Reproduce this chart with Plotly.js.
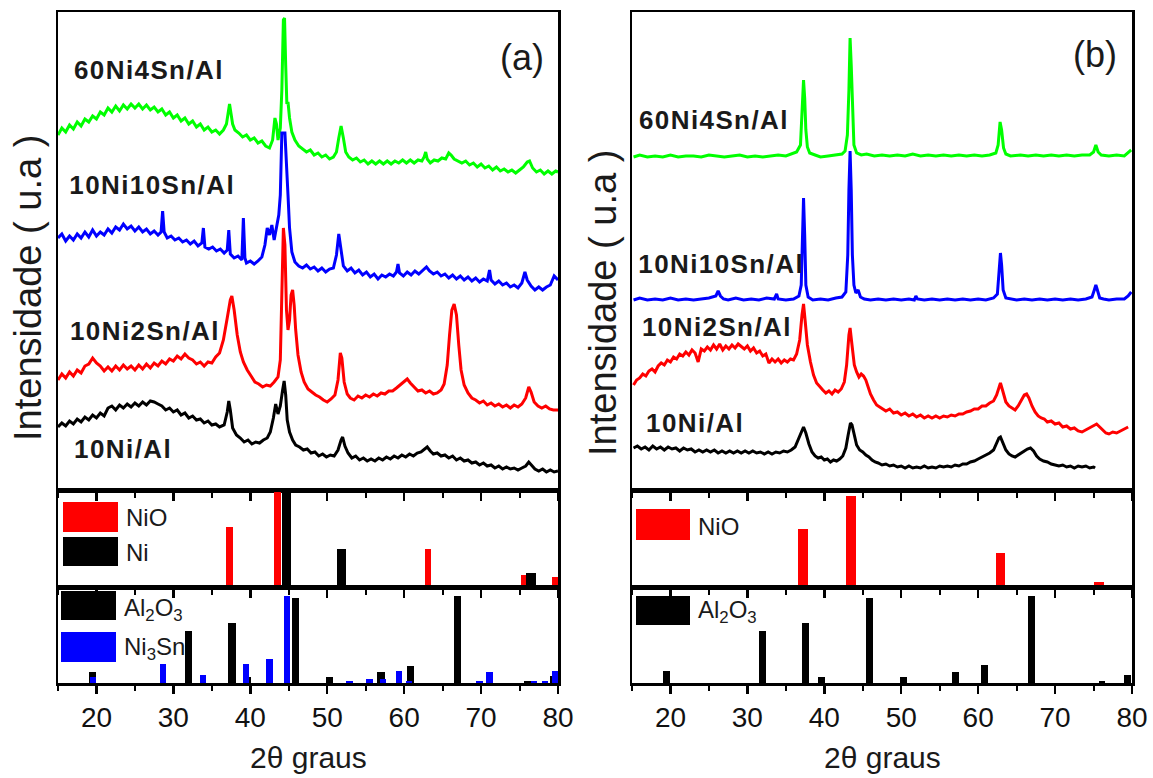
<!DOCTYPE html>
<html>
<head>
<meta charset="utf-8">
<script src="https://cdn.plot.ly/plotly-3.0.1.min.js"></script>
<style>
  html, body { margin: 0; padding: 0; background: #fff; }
  #chart { width: 1153px; height: 778px; }
</style>
</head>
<body>
<div id="chart"></div>
<script>
// XRD patterns, [2θ (degrees), intensity (a.u., stacked offset)]
// Panel (a)
const a60Ni4Sn = [[15.0,355],[15.5,362],[16.0,358],[16.5,365],[17.0,361],[17.5,368],[18.0,364],[18.5,371],[19.0,368],[19.5,374],[20.0,371],[20.5,378],[21.0,375],[21.5,382],[22.0,378],[22.5,384],[23.0,379],[23.5,385],[24.0,381],[24.5,386],[25.0,382],[25.5,386],[26.0,381],[26.5,385],[27.0,380],[27.5,383],[28.0,378],[28.5,381],[29.0,375],[29.5,378],[30.0,372],[30.5,375],[31.0,369],[31.5,372],[32.0,366],[32.5,369],[33.0,363],[33.5,366],[34.0,360],[34.5,363],[35.0,358],[35.5,360],[36.0,356],[36.5,360],[36.9,366],[37.1,378],[37.3,386],[37.5,376],[37.7,366],[38.0,360],[38.5,357],[39.0,353],[39.5,355],[40.0,350],[40.5,352],[41.0,347],[41.5,349],[42.0,344],[42.5,342],[42.9,350],[43.2,372],[43.4,366],[43.6,350],[43.9,362],[44.1,400],[44.3,470],[44.45,472],[44.6,425],[44.75,386],[44.9,388],[45.1,372],[45.4,358],[45.8,350],[46.3,344],[46.8,341],[47.3,338],[47.8,340],[48.3,335],[48.8,337],[49.3,333],[49.8,335],[50.3,331],[50.8,333],[51.2,338],[51.5,352],[51.8,364],[52.1,352],[52.4,338],[52.8,333],[53.3,330],[53.8,332],[54.3,328],[54.8,330],[55.3,326],[55.8,329],[56.3,326],[56.8,329],[57.3,326],[57.8,329],[58.3,326],[58.8,329],[59.3,327],[59.8,330],[60.3,327],[60.8,330],[61.3,327],[61.8,330],[62.3,329],[62.6,333],[62.8,338],[63.0,331],[63.4,327],[63.9,330],[64.4,329],[64.9,332],[65.4,331],[65.8,337],[66.1,335],[66.5,331],[67.0,329],[67.5,327],[68.0,329],[68.5,325],[69.0,327],[69.5,323],[70.0,326],[70.5,322],[71.0,324],[71.5,320],[72.0,323],[72.5,319],[73.0,321],[73.5,318],[74.0,320],[74.5,317],[75.0,320],[75.5,323],[76.0,328],[76.3,329],[76.7,322],[77.2,318],[77.7,320],[78.2,316],[78.7,319],[79.2,316],[79.7,319],[80.0,318]];

const a10Ni10Sn = [[15.0,252],[15.5,256],[16.0,249],[16.5,254],[17.0,250],[17.5,256],[18.0,252],[18.5,258],[19.0,253],[19.5,260],[20.0,254],[20.5,258],[21.0,255],[21.5,261],[22.0,257],[22.5,263],[23.0,260],[23.5,266],[24.0,261],[24.5,264],[25.0,259],[25.5,263],[26.0,258],[26.5,261],[27.0,256],[27.5,259],[28.0,255],[28.4,258],[28.6,279],[28.8,258],[29.2,252],[29.7,254],[30.2,250],[30.7,252],[31.2,248],[31.7,250],[32.2,246],[32.7,249],[33.2,244],[33.7,247],[33.9,262],[34.1,243],[34.6,241],[35.1,243],[35.6,239],[36.1,241],[36.6,237],[37.0,240],[37.2,260],[37.4,236],[37.9,232],[38.4,234],[38.9,230],[39.1,272],[39.3,232],[39.5,227],[40.0,229],[40.5,226],[41.0,229],[41.5,233],[41.9,245],[42.2,262],[42.5,255],[42.8,265],[43.1,250],[43.4,262],[43.7,275],[43.9,295],[44.1,357],[44.5,357],[44.7,330],[44.9,295],[45.1,262],[45.4,238],[45.8,228],[46.3,224],[46.8,222],[47.3,225],[47.8,221],[48.3,223],[48.8,219],[49.3,222],[49.8,218],[50.3,221],[50.8,222],[51.2,235],[51.5,256],[51.8,238],[52.1,224],[52.6,219],[53.1,222],[53.6,217],[54.1,220],[54.6,215],[55.1,218],[55.6,213],[56.1,216],[56.6,211],[57.1,215],[57.6,213],[58.1,216],[58.6,214],[59.0,218],[59.2,226],[59.4,217],[59.9,214],[60.4,218],[60.9,215],[61.4,219],[61.9,216],[62.4,220],[62.9,223],[63.3,219],[63.8,216],[64.3,218],[64.8,214],[65.3,216],[65.8,212],[66.3,215],[66.8,211],[67.3,214],[67.8,210],[68.3,213],[68.8,209],[69.3,212],[69.8,208],[70.3,211],[70.8,209],[71.1,220],[71.3,210],[71.8,206],[72.3,209],[72.8,205],[73.3,207],[73.8,203],[74.3,205],[74.8,202],[75.3,207],[75.7,218],[76.0,210],[76.5,204],[77.0,200],[77.5,203],[78.0,200],[78.5,203],[79.0,205],[79.5,214],[80.0,210]];

const a10Ni2Sn = [[15.0,110],[15.5,116],[16.0,112],[16.5,118],[17.0,114],[17.5,120],[18.0,117],[18.5,124],[19.0,126],[19.5,132],[20.0,127],[20.5,124],[21.0,119],[21.5,123],[22.0,119],[22.5,124],[23.0,120],[23.5,125],[24.0,121],[24.5,124],[25.0,120],[25.5,125],[26.0,121],[26.5,126],[27.0,122],[27.5,127],[28.0,124],[28.5,129],[29.0,126],[29.5,131],[30.0,129],[30.5,134],[31.0,131],[31.5,136],[32.0,132],[32.5,130],[33.0,126],[33.5,128],[34.0,124],[34.5,128],[35.0,127],[35.5,133],[36.0,137],[36.5,150],[37.0,172],[37.4,190],[37.6,194],[37.9,180],[38.3,155],[38.7,138],[39.1,128],[39.6,120],[40.1,114],[40.6,108],[41.1,106],[41.6,103],[42.1,105],[42.6,104],[43.1,108],[43.6,113],[43.9,130],[44.1,200],[44.3,262],[44.5,245],[44.7,180],[44.9,160],[45.1,170],[45.3,195],[45.5,200],[45.7,185],[45.9,160],[46.2,135],[46.6,118],[47.0,108],[47.5,101],[48.0,98],[48.5,95],[49.0,93],[49.5,90],[50.0,88],[50.5,91],[51.0,95],[51.4,110],[51.7,137],[51.9,132],[52.2,108],[52.6,96],[53.0,92],[53.5,90],[54.0,94],[54.5,92],[55.0,95],[55.5,93],[56.0,96],[56.5,94],[57.0,97],[57.5,96],[58.0,99],[58.5,99],[59.0,102],[59.5,105],[60.0,108],[60.4,111],[60.8,107],[61.3,103],[61.8,99],[62.3,100],[62.8,97],[63.3,99],[63.8,96],[64.3,97],[64.8,100],[65.2,106],[65.6,125],[65.9,155],[66.2,180],[66.5,186],[66.8,175],[67.1,145],[67.4,120],[67.8,105],[68.3,97],[68.8,92],[69.3,90],[69.8,87],[70.3,89],[70.8,85],[71.3,87],[71.8,84],[72.3,86],[72.8,83],[73.3,85],[73.8,82],[74.3,85],[74.8,83],[75.3,86],[75.8,92],[76.2,103],[76.5,98],[76.9,88],[77.4,84],[77.9,82],[78.4,84],[78.9,81],[79.4,80],[80.0,80]];

const a10Ni = [[15.0,63],[15.5,67],[16.0,64],[16.5,69],[17.0,66],[17.5,71],[18.0,68],[18.5,73],[19.0,70],[19.5,75],[20.0,72],[20.5,77],[21.0,74],[21.5,82],[22.0,84],[22.5,80],[23.0,85],[23.5,82],[24.0,86],[24.5,83],[25.0,87],[25.5,84],[26.0,88],[26.5,85],[27.0,89],[27.5,88],[28.0,86],[28.5,84],[29.0,80],[29.5,82],[30.0,78],[30.5,80],[31.0,75],[31.5,77],[32.0,72],[32.5,74],[33.0,70],[33.5,71],[34.0,67],[34.5,69],[35.0,65],[35.5,66],[36.0,63],[36.6,65],[37.0,78],[37.2,89],[37.4,80],[37.7,62],[38.2,55],[38.7,52],[39.2,48],[39.7,50],[40.2,46],[40.7,48],[41.2,47],[41.7,50],[42.2,52],[42.6,58],[43.0,72],[43.3,86],[43.6,76],[43.9,84],[44.2,100],[44.4,109],[44.6,95],[44.8,70],[45.1,58],[45.5,50],[45.9,45],[46.4,43],[46.9,40],[47.4,41],[47.9,37],[48.4,38],[48.9,34],[49.4,36],[49.9,33],[50.4,35],[50.9,34],[51.4,40],[51.8,50],[52.0,53],[52.3,44],[52.7,37],[53.2,32],[53.7,34],[54.2,30],[54.7,32],[55.2,29],[55.7,31],[56.2,29],[56.7,32],[57.2,30],[57.7,33],[58.2,31],[58.7,34],[59.2,32],[59.7,35],[60.2,33],[60.7,36],[61.2,34],[61.7,37],[62.2,38],[62.7,41],[63.0,43],[63.4,39],[63.8,36],[64.3,37],[64.8,34],[65.3,35],[65.8,32],[66.3,34],[66.8,30],[67.3,32],[67.8,29],[68.3,30],[68.8,27],[69.3,28],[69.8,25],[70.3,27],[70.8,24],[71.3,25],[71.8,22],[72.3,24],[72.8,21],[73.3,23],[73.8,21],[74.3,22],[74.8,20],[75.3,22],[75.8,24],[76.2,28],[76.5,25],[77.0,21],[77.5,19],[78.0,21],[78.5,18],[79.0,20],[79.5,18],[80.0,19]];

// Panel (b)
const b60Ni4Sn = [[15.2,333],[16,335],[17,333],[18,334],[19,333],[20,335],[21,333],[22,334],[23,334],[24,333],[25,335],[26,334],[27,333],[28,334],[29,335],[30,333],[31,334],[32,333],[33,334],[34,335],[35,334],[35.8,336],[36.4,338],[36.9,345],[37.1,375],[37.3,410],[37.45,392],[37.6,360],[37.8,343],[38.1,337],[38.8,335],[39.5,333],[40.5,334],[41.5,335],[42.3,336],[42.7,339],[43.0,355],[43.2,400],[43.35,452],[43.5,425],[43.65,385],[43.85,345],[44.2,337],[44.8,335],[45.5,336],[46.5,334],[47.5,335],[48.5,334],[49.5,335],[50.5,334],[51.5,336],[52.5,334],[53.5,335],[54.5,334],[55.5,335],[56.5,334],[57.5,335],[58.5,334],[59.5,335],[60.5,334],[61.5,335],[62.3,337],[62.6,345],[62.85,368],[63.05,360],[63.3,342],[63.6,336],[64.2,334],[65.5,335],[66.5,334],[67.5,335],[68.5,334],[69.5,335],[70.5,334],[71.5,335],[72.5,334],[73.5,335],[74.5,335],[75.0,338],[75.3,345],[75.6,338],[76.0,335],[77,334],[78,335],[79,334],[79.5,337],[79.9,340]];

const b10Ni10Sn = [[15.2,190],[16,192],[17,190],[18,191],[19,190],[20,192],[21,190],[22,191],[23,190],[24,191],[25,192],[25.9,194],[26.2,199],[26.5,194],[26.9,191],[27.5,190],[28.5,192],[29.5,190],[30.5,191],[31.5,190],[32.5,192],[33.5,191],[33.8,196],[34.0,191],[35,190],[36,191],[36.7,194],[37.0,205],[37.15,260],[37.3,292],[37.45,255],[37.6,205],[37.9,193],[38.5,190],[39.5,191],[40.5,190],[41.5,192],[42.3,193],[42.8,198],[43.05,235],[43.2,300],[43.35,339],[43.5,300],[43.65,235],[43.85,205],[44.1,197],[44.4,200],[44.7,193],[45.2,191],[46,190],[47,191],[48,190],[49,191],[50,190],[51,191],[51.7,190],[51.9,194],[52.1,191],[53,190],[54,191],[55,190],[56,191],[57,190],[58,191],[59,190],[60,191],[61,190],[62,192],[62.5,196],[62.7,215],[62.9,237],[63.05,225],[63.25,200],[63.6,192],[64.2,191],[65,190],[66,191],[67,190],[68,191],[69,190],[70,191],[71,190],[72,191],[73,190],[74,191],[74.8,193],[75.1,200],[75.3,205],[75.5,200],[75.8,192],[76.3,191],[77,190],[78,191],[79,191],[79.5,194],[79.9,198]];

const b10Ni2Sn = [[15.2,105],[15.6,110],[16.0,112],[16.4,116],[16.8,114],[17.2,119],[17.6,121],[18.0,118],[18.4,124],[18.8,127],[19.2,125],[19.6,130],[20.0,128],[20.4,133],[20.8,131],[21.2,136],[21.6,134],[22.0,138],[22.4,135],[22.8,140],[23.2,137],[23.6,128],[24.0,141],[24.4,139],[24.8,143],[25.2,140],[25.6,145],[26.0,141],[26.4,146],[26.8,140],[27.2,144],[27.6,141],[28.0,145],[28.4,142],[28.8,146],[29.2,143],[29.6,141],[30.0,144],[30.4,139],[30.8,142],[31.2,137],[31.6,139],[32.0,134],[32.4,136],[32.8,127],[33.2,131],[33.6,128],[34.0,131],[34.4,127],[34.8,130],[35.2,128],[35.6,131],[36.0,130],[36.4,136],[36.8,150],[37.1,175],[37.3,186],[37.5,170],[37.8,145],[38.2,128],[38.6,115],[39.0,107],[39.4,103],[39.8,100],[40.2,97],[40.6,99],[41.0,96],[41.4,100],[41.8,98],[42.2,101],[42.6,108],[42.9,125],[43.2,155],[43.35,162],[43.6,145],[43.9,125],[44.2,118],[44.5,113],[44.8,116],[45.1,114],[45.4,110],[45.7,103],[46.0,96],[46.4,90],[46.8,85],[47.2,83],[47.6,81],[48.0,79],[48.5,81],[49.0,77],[49.5,78],[50.0,75],[50.5,77],[51.0,74],[51.5,76],[52.0,73],[52.5,75],[53.0,72],[53.5,74],[54.0,72],[54.5,74],[55.0,72],[55.5,74],[56.0,73],[56.5,75],[57.0,74],[57.5,76],[58.0,76],[58.5,78],[59.0,79],[59.5,81],[60.0,81],[60.5,84],[61.0,84],[61.5,87],[62.0,89],[62.4,95],[62.7,104],[62.9,107],[63.2,99],[63.6,88],[64.0,84],[64.4,82],[64.8,80],[65.2,84],[65.6,90],[66.0,95],[66.3,96],[66.6,92],[67.0,84],[67.4,78],[67.8,74],[68.2,72],[68.6,71],[69.0,68],[69.5,69],[70.0,66],[70.5,67],[71.0,63],[71.5,64],[72.0,61],[72.5,62],[73.0,59],[73.5,58],[74.0,60],[74.5,62],[75.0,64],[75.4,66],[75.8,63],[76.2,60],[76.6,57],[77.0,56],[77.5,58],[78.0,57],[78.5,59],[79.0,61],[79.5,63]];

const b10Ni = [[15.2,42],[15.7,44],[16.2,41],[16.7,43],[17.2,40],[17.7,44],[18.2,41],[18.7,43],[19.2,40],[19.7,43],[20.2,41],[20.7,42],[21.2,39],[21.7,42],[22.2,40],[22.7,41],[23.2,38],[23.7,40],[24.2,38],[24.7,40],[25.2,38],[25.7,40],[26.2,37],[26.7,39],[27.2,37],[27.7,39],[28.2,37],[28.7,39],[29.2,37],[29.7,39],[30.2,37],[30.7,39],[31.2,37],[31.7,38],[32.2,36],[32.7,38],[33.2,36],[33.7,38],[34.2,37],[34.7,39],[35.2,38],[35.7,40],[36.2,43],[36.6,50],[37.0,58],[37.3,63],[37.6,57],[38.0,46],[38.4,38],[38.8,34],[39.2,32],[39.6,33],[40.0,30],[40.4,31],[40.8,28],[41.2,30],[41.6,29],[42.0,31],[42.4,34],[42.8,42],[43.1,55],[43.4,67],[43.6,65],[43.9,54],[44.2,45],[44.6,40],[45.0,38],[45.4,35],[45.8,33],[46.2,30],[46.6,28],[47.0,27],[47.5,25],[48.0,26],[48.5,24],[49.0,25],[49.5,23],[50.0,24],[50.5,22],[51.0,24],[51.5,22],[52.0,23],[52.5,22],[53.0,24],[53.5,22],[54.0,23],[54.5,22],[55.0,24],[55.5,23],[56.0,24],[56.5,23],[57.0,25],[57.5,24],[58.0,26],[58.5,26],[59.0,28],[59.5,29],[60.0,31],[60.5,33],[61.0,35],[61.5,37],[62.0,40],[62.4,46],[62.7,52],[62.9,53],[63.2,48],[63.6,40],[64.0,36],[64.4,34],[64.8,33],[65.2,35],[65.6,37],[66.0,39],[66.4,41],[66.8,42],[67.2,39],[67.6,34],[68.0,31],[68.5,29],[69.0,28],[69.5,26],[70.0,25],[70.5,24],[71.0,25],[71.5,23],[72.0,24],[72.5,22],[73.0,24],[73.5,23],[74.0,24],[74.5,22],[75.0,23],[75.2,22]];

// Reference patterns: peak positions (2θ) and relative intensities
const niO_a_pos = [37.3, 43.5, 63.1, 75.6, 79.65];
const niO_a_int = [0.62, 0.98, 0.39, 0.12, 0.10];
const ni_a_pos = [44.7, 51.9, 76.5];
const ni_a_int = [0.98, 0.39, 0.14];
const al2o3_pos = [19.5, 32.0, 37.6, 39.6, 45.9, 50.3, 57.0, 60.8, 66.9, 76.1, 79.4];
const al2o3_a_int = [0.11, 0.54, 0.62, 0.06, 0.89, 0.06, 0.11, 0.18, 0.91, 0.02, 0.07];
const ni3sn_pos = [19.5, 28.7, 33.9, 39.4, 42.5, 44.8, 52.9, 55.5, 57.3, 59.3, 60.6, 69.8, 71.1, 76.9, 78.3, 79.6];
const ni3sn_int = [0.06, 0.20, 0.08, 0.20, 0.25, 0.91, 0.02, 0.04, 0.04, 0.12, 0.02, 0.02, 0.11, 0.02, 0.02, 0.13];
const niO_b_pos = [37.2, 43.5, 62.9, 75.7];
const niO_b_int = [0.60, 0.94, 0.35, 0.05];
const al2o3_b_int = [0.12, 0.54, 0.62, 0.06, 0.89, 0.06, 0.11, 0.19, 0.91, 0.02, 0.08];

const sampleLabels = ['60Ni4Sn/Al', '10Ni10Sn/Al', '10Ni2Sn/Al', '10Ni/Al'];
const tickVals = [20, 30, 40, 50, 60, 70, 80];

const FONT = 'Arial, "Liberation Sans", sans-serif';
const GREEN = '#00ff00', BLUE = '#0000ff', RED = '#ff0000', BLACK = '#000000';
const W = 1153, H = 778;
const px = v => v / W;          // pixel column -> paper x
const py = v => 1 - v / H;      // pixel row -> paper y

function line(data, color, xa, ya) {
  return {
    type: 'scatter', mode: 'lines', xaxis: xa, yaxis: ya,
    x: data.map(d => d[0]), y: data.map(d => d[1]),
    line: { color: color, width: 3 }, hoverinfo: 'skip', showlegend: false
  };
}
function bars(pos, val, color, width, xa, ya) {
  return {
    type: 'bar', xaxis: xa, yaxis: ya, x: pos, y: val, width: width,
    marker: { color: color, line: { width: 0 } }, hoverinfo: 'skip', showlegend: false
  };
}

const traces = [
  line(a60Ni4Sn, GREEN, 'x', 'y'),
  line(a10Ni10Sn, BLUE, 'x', 'y'),
  line(a10Ni2Sn, RED, 'x', 'y'),
  line(a10Ni, BLACK, 'x', 'y'),
  bars(niO_a_pos, niO_a_int, RED, 0.85, 'x2', 'y2'),
  bars(ni_a_pos, ni_a_int, BLACK, 1.2, 'x2', 'y2'),
  bars(al2o3_pos, al2o3_a_int, BLACK, 0.95, 'x3', 'y3'),
  bars(ni3sn_pos, ni3sn_int, BLUE, 0.8, 'x3', 'y3'),
  line(b60Ni4Sn, GREEN, 'x4', 'y4'),
  line(b10Ni10Sn, BLUE, 'x4', 'y4'),
  line(b10Ni2Sn, RED, 'x4', 'y4'),
  line(b10Ni, BLACK, 'x4', 'y4'),
  bars(niO_b_pos, niO_b_int, RED, 1.25, 'x5', 'y5'),
  bars(al2o3_pos, al2o3_b_int, BLACK, 0.9, 'x6', 'y6')
];

const colA = [px(58), px(558)];
const colB = [px(632), px(1132)];
const rowMain = [py(490), py(12)];
const rowNiO = [py(587), py(490)];
const rowAl = [py(683), py(587)];

function xAxis(domain, anchor, opts) {
  return Object.assign({
    domain: domain, anchor: anchor, range: [15, 80], autorange: false,
    tickmode: 'array', tickvals: tickVals, ticks: 'outside', ticklen: 8, tickwidth: 2.5,
    tickcolor: BLACK, showticklabels: false, showgrid: false, zeroline: false,
    showline: true, linecolor: BLACK, linewidth: 2.5, mirror: true,
    minor: { tickmode: 'linear', tick0: 15, dtick: 10, ticks: 'outside', ticklen: 5, tickwidth: 2, tickcolor: BLACK },
    fixedrange: true
  }, opts || {});
}
function yAxis(domain, anchor, range) {
  return {
    domain: domain, anchor: anchor, range: range, autorange: false,
    showticklabels: false, ticks: '', showgrid: false, zeroline: false,
    showline: true, linecolor: BLACK, linewidth: 2.5, mirror: true, fixedrange: true
  };
}
// top-edge ticks of the pattern frames point down into the plot
function topTicks(over, domain, anchor) {
  return xAxis(domain, anchor, {
    overlaying: over, side: 'top', ticks: 'inside', showline: false, mirror: false,
    minor: { tickmode: 'linear', tick0: 15, dtick: 10, ticks: 'inside', ticklen: 5, tickwidth: 2, tickcolor: BLACK }
  });
}
const bottomLabels = {
  showticklabels: true,
  tickfont: { family: FONT, size: 28, color: '#111' }
};

const annotations = [];
function txt(text, x, y, size, opts) {
  annotations.push(Object.assign({
    text: text, xref: 'paper', yref: 'paper', x: px(x), y: py(y),
    xanchor: 'left', yanchor: 'middle', showarrow: false,
    font: { family: FONT, size: size, color: '#1a1a1a' }
  }, opts || {}));
}
// sample labels, panel (a) and (b)
const labelRowsA = [70, 185, 331, 449];
const labelColsA = [79, 75, 75, 77];
const labelRowsB = [120, 264, 327, 423];
const labelColsB = [644, 644, 647, 649];
sampleLabels.forEach((s, i) => {
  txt('<b>' + s + '</b>', labelColsA[i], labelRowsA[i], 26);
  txt('<b>' + s + '</b>', labelColsB[i], labelRowsB[i], 26);
});
txt('(a)', 522, 57, 36, { xanchor: 'center' });
txt('(b)', 1095, 54, 36, { xanchor: 'center' });
// axis titles
txt('Intensidade ( u.a )', 28, 288, 38, { xanchor: 'center', textangle: -90 });
txt('Intensidade ( u.a )', 603, 303, 38, { xanchor: 'center', textangle: -90 });
txt('2θ graus', 308, 757, 30, { xanchor: 'center' });
txt('2θ graus', 882, 757, 30, { xanchor: 'center' });
// reference legends
txt('NiO', 124, 517, 24);
txt('Ni', 124, 552, 24);
txt('Al<sub>2</sub>O<sub>3</sub>', 122, 609, 24);
txt('Ni<sub>3</sub>Sn', 122, 648, 24);
txt('NiO', 696, 526, 24);
txt('Al<sub>2</sub>O<sub>3</sub>', 696, 611, 24);

const box = (x0, y0, x1, y1, color) => ({
  type: 'rect', xref: 'paper', yref: 'paper',
  x0: px(x0), x1: px(x1), y0: py(y1), y1: py(y0),
  fillcolor: color, line: { width: 0 }, layer: 'above'
});
const shapes = [
  box(63, 502, 118, 532, RED),
  box(63, 537, 118, 566, BLACK),
  box(61, 591, 116, 620, BLACK),
  box(61, 632, 116, 662, BLUE),
  box(636, 509, 690, 540, RED),
  box(636, 596, 690, 625, BLACK)
];

const layout = {
  width: W, height: H,
  margin: { l: 0, r: 0, t: 0, b: 0, pad: 0 },
  paper_bgcolor: '#ffffff', plot_bgcolor: '#ffffff',
  barmode: 'overlay', bargap: 0,
  font: { family: FONT, color: '#111' },
  showlegend: false,
  xaxis: xAxis(colA, 'y'),
  yaxis: yAxis(rowMain, 'x', [0, 478]),
  xaxis2: xAxis(colA, 'y2'),
  yaxis2: yAxis(rowNiO, 'x2', [0, 1]),
  xaxis3: xAxis(colA, 'y3', bottomLabels),
  yaxis3: yAxis(rowAl, 'x3', [0, 1]),
  xaxis4: xAxis(colB, 'y4'),
  yaxis4: yAxis(rowMain, 'x4', [0, 478]),
  xaxis5: xAxis(colB, 'y5'),
  yaxis5: yAxis(rowNiO, 'x5', [0, 1]),
  xaxis6: xAxis(colB, 'y6', bottomLabels),
  yaxis6: yAxis(rowAl, 'x6', [0, 1]),
  xaxis7: topTicks('x', colA, 'y'),
  xaxis8: topTicks('x4', colB, 'y4'),
  annotations: annotations,
  shapes: shapes
};

Plotly.newPlot('chart', traces, layout, { staticPlot: true, displayModeBar: false }).then(gd => {
  // the sample names are set with a slightly wider tracking
  gd.querySelectorAll('.annotation-text').forEach(t => {
    if (sampleLabels.includes(t.textContent)) t.style.letterSpacing = '1.4px';
  });
});
</script>
</body>
</html>
